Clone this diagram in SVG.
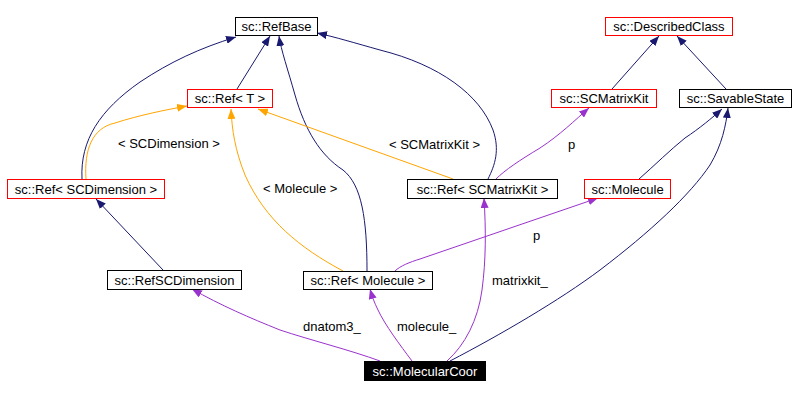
<svg xmlns="http://www.w3.org/2000/svg" width="796" height="398" viewBox="0 0 796 398">
<defs>
<style>
.n rect{fill:#fff;stroke:#000;stroke-width:1}
.n.r rect{stroke:#ff0000}
.n.d rect{fill:#000}
text{font-family:"Liberation Sans",Arial,sans-serif;font-size:13px;fill:#000}
.n text{text-anchor:middle}
.n.d text{fill:#fff}
.e{fill:none;stroke-width:1}
.b{stroke:#191970;marker-end:url(#mb)}
.o{stroke:#ffa500;marker-end:url(#mo)}
.p{stroke:#9a32cd;marker-end:url(#mp)}
</style>
<marker id="mb" viewBox="0 0 10 8" refX="10" refY="4" markerWidth="10" markerHeight="8" markerUnits="userSpaceOnUse" orient="auto"><path d="M0,0L10,4L0,8z" fill="#191970"/></marker>
<marker id="mo" viewBox="0 0 10 8" refX="10" refY="4" markerWidth="10" markerHeight="8" markerUnits="userSpaceOnUse" orient="auto"><path d="M0,0L10,4L0,8z" fill="#ffa500"/></marker>
<marker id="mp" viewBox="0 0 10 8" refX="10" refY="4" markerWidth="10" markerHeight="8" markerUnits="userSpaceOnUse" orient="auto"><path d="M0,0L10,4L0,8z" fill="#9a32cd"/></marker>
</defs>
<rect width="796" height="398" fill="#fff"/>
<g id="connectors">
<path class="e b" d="M82,179 C80,140 100,110 140,82 C170,62 200,48 236,37"/>
<path class="e o" d="M86,179 C84,150 92,128 115,123 C140,115 165,110 187,106"/>
<path class="e b" d="M237,89 L270,36"/>
<path class="e b" d="M367,271 C367,220 362,185 343,170 C320,155 305,130 295,95 C288,70 281,50 279,36"/>
<path class="e b" d="M488,179 C495,165 500,150 493,130 C480,95 440,65 380,50 C355,43 335,37 317,33"/>
<path class="e o" d="M453,179 L258,109"/>
<path class="e o" d="M343,271 C300,248 265,220 245,175 C235,150 232,130 231,109"/>
<path class="e b" d="M163,270 L96,199"/>
<path class="e p" d="M380,361 C350,350 310,340 280,330 C250,318 220,305 192,289"/>
<path class="e p" d="M412,361 C400,345 385,325 378,310 C374,302 372,296 370,289"/>
<path class="e p" d="M447,361 C465,345 478,320 482,290 C486,260 486,230 484,198"/>
<path class="e b" d="M450,361 C500,335 560,300 600,270 C650,232 690,195 710,165 C722,145 726,125 728,108"/>
<path class="e b" d="M639,179 C655,165 670,150 685,138 C700,128 712,118 722,109"/>
<path class="e p" d="M395,271 C400,266 410,262 420,259 L598,198"/>
<path class="e p" d="M496,179 C505,170 520,160 540,148 C560,135 575,120 589,108"/>
<path class="e b" d="M612,89 L659,36"/>
<path class="e b" d="M726,89 L677,36"/>
<text x="118" y="148">&lt; SCDimension &gt;</text>
<text x="263" y="193">&lt; Molecule &gt;</text>
<text x="389" y="149">&lt; SCMatrixKit &gt;</text>
<text x="568" y="149">p</text>
<text x="533" y="240">p</text>
<text x="492" y="285">matrixkit_</text>
<text x="397" y="331">molecule_</text>
<text x="303" y="331">dnatom3_</text>
</g>
<g id="RefBase" class="n"><rect x="235.5" y="17.5" width="82" height="18"/><text x="276.5" y="31">sc::RefBase</text></g>
<g id="DescribedClass" class="n r"><rect x="605.5" y="17.5" width="127" height="18"/><text x="669" y="31">sc::DescribedClass</text></g>
<g id="RefT" class="n r"><rect x="187.5" y="89.5" width="85" height="18"/><text x="230" y="103">sc::Ref&lt; T &gt;</text></g>
<g id="SCMatrixKit" class="n r"><rect x="551.5" y="89.5" width="105" height="18"/><text x="604" y="103">sc::SCMatrixKit</text></g>
<g id="SavableState" class="n"><rect x="679.5" y="89.5" width="112" height="18"/><text x="735.5" y="103">sc::SavableState</text></g>
<g id="RefSCDimension" class="n r"><rect x="7.5" y="179.5" width="157" height="19"/><text x="86" y="193.5">sc::Ref&lt; SCDimension &gt;</text></g>
<g id="RefSCMatrixKit" class="n"><rect x="407.5" y="179.5" width="150" height="19"/><text x="482.5" y="193.5">sc::Ref&lt; SCMatrixKit &gt;</text></g>
<g id="Molecule" class="n r"><rect x="584.5" y="179.5" width="86" height="19"/><text x="627.5" y="193.5">sc::Molecule</text></g>
<g id="RefSCDimensionClass" class="n"><rect x="107.5" y="270.5" width="134" height="19"/><text x="174.5" y="284.5">sc::RefSCDimension</text></g>
<g id="RefMolecule" class="n"><rect x="303.5" y="271.5" width="129" height="18"/><text x="368" y="285">sc::Ref&lt; Molecule &gt;</text></g>
<g id="MolecularCoor" class="n d"><rect x="364.5" y="361.5" width="121" height="19"/><text x="425" y="375.5">sc::MolecularCoor</text></g>
</svg>
